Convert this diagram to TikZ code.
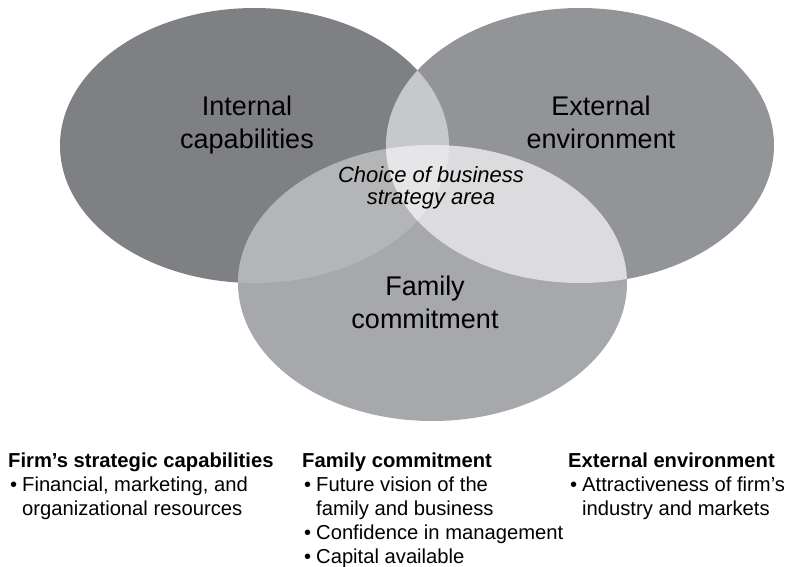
\documentclass[tikz,border=0pt]{standalone}
\usepackage{fontspec}
\setmainfont{Liberation Sans}
\usepackage{tikz}
\usetikzlibrary{positioning}

\definecolor{capgray}{HTML}{7F8084}
\definecolor{envgray}{HTML}{939498}
\definecolor{famgray}{HTML}{A7A8AB}
\definecolor{capenvgray}{HTML}{C7C8CA}
\definecolor{capfamgray}{HTML}{B4B5B7}
\definecolor{envfamgray}{HTML}{DCDCDE}
\definecolor{choicegray}{HTML}{E6E6E8}

\newcommand{\capoval}{(254.5,145.5) ellipse (194.5 and 137.5)}
\newcommand{\envoval}{(580,145.5) ellipse (194 and 137.5)}
\newcommand{\famoval}{(432.5,283) ellipse (194.5 and 138)}

\begin{document}
\begin{tikzpicture}[x=1pt,y=-1pt,
        biglabel/.style={align=center,inner sep=0pt,anchor=north,font=\fontsize{27}{33}\selectfont},
        choicelabel/.style={align=center,inner sep=0pt,anchor=north,font=\fontsize{22}{22.5}\selectfont\itshape},
        head/.style={inner sep=0pt,anchor=base west,font=\fontsize{20.2}{24.3}\selectfont\bfseries},
        item/.style={inner sep=0pt,anchor=base west,align=left,font=\fontsize{20.2}{24.3}\selectfont}]
        \useasboundingbox (0,0) rectangle (800,566);
        % the three areas
        \fill[capgray] \capoval;
        \fill[envgray] \envoval;
        \fill[famgray] \famoval;
        \begin{scope}
            \clip \capoval;
            \fill[capenvgray] \envoval;
            \fill[capfamgray] \famoval;
        \end{scope}
        \begin{scope}
            \clip \envoval;
            \fill[envfamgray] \famoval;
        \end{scope}
        \begin{scope}
            \clip \capoval;
            \clip \envoval;
            \fill[choicegray] \famoval;
        \end{scope}
        \node[biglabel] (internal) at (247,96) {Internal\\capabilities};
        \node[biglabel] (external) at (601,96) {External\\environment};
        \node[biglabel] (family) at (425,276) {Family\\commitment};
        \node[choicelabel] (choice) at (431,166) {Choice of business\\strategy area};
        % lists below (base = last line)
        \node[head] (firmhead) at (8,467) {Firm's strategic capabilities};
        \node[item] (firmitem) at (22,515.6) {\llap{\textbullet\hspace{5pt}}Financial, marketing, and\\organizational resources};
        \node[head] (famhead) at (302,467) {Family commitment};
        \node[item] (famitema) at (316,515.6) {\llap{\textbullet\hspace{5pt}}Future vision of the\\family and business};
        \node[item] (famitemb) at (316,539.9) {\llap{\textbullet\hspace{5pt}}Confidence in management};
        \node[item] (famitemc) at (316,563) {\llap{\textbullet\hspace{5pt}}Capital available};
        \node[head] (envhead) at (568,467) {External environment};
        \node[item] (envitem) at (582,515.6) {\llap{\textbullet\hspace{5pt}}Attractiveness of firm's\\industry and markets};
\end{tikzpicture}
\end{document}
